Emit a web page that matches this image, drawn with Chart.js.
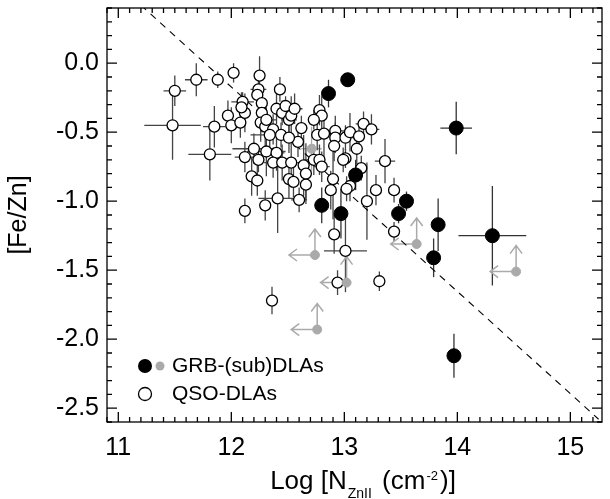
<!DOCTYPE html>
<html>
<head>
<meta charset="utf-8">
<script src="https://cdn.jsdelivr.net/npm/chart.js@4.4.1/dist/chart.umd.min.js"></script>
<style>
  html, body { margin: 0; padding: 0; background: #fff; }
  canvas { display: block; }
</style>
</head>
<body>
<canvas id="feznChart" width="610" height="499"></canvas>
<script>
const FONT = "'Liberation Sans', Arial, Helvetica, sans-serif";

// QSO-DLAs (open circles)
const qsoX = [11.50, 11.69, 11.48, 11.85, 11.81, 11.88, 12.02, 11.97, 12.00, 12.08,
  12.10, 12.12, 12.25, 12.24, 12.23, 12.27, 12.27, 12.26, 12.30, 12.31,
  12.37, 12.34, 12.43, 12.40, 12.45, 12.48, 12.51, 12.44, 12.53, 12.56,
  12.20, 12.12, 12.24, 12.31, 12.40, 12.37, 12.45, 12.53, 12.18, 12.23,
  12.51, 12.55, 12.41, 12.30, 12.12, 12.60, 12.64, 12.73, 12.78, 12.80,
  13.01, 12.99, 13.15, 13.36, 12.66, 12.66, 12.90, 12.88, 13.05, 13.02,
  13.28, 13.44, 13.20, 12.91, 13.01, 13.44, 12.94, 13.31, 12.36, 12.78,
  12.80, 12.62, 12.73, 12.76, 12.82, 12.92, 12.92, 13.01, 13.05, 13.13,
  13.17, 13.24, 13.11, 12.91, 12.59, 12.51, 12.09];
const qsoY = [-0.20, -0.12, -0.45, -0.46, -0.66, -0.12, -0.07, -0.38, -0.45, -0.43,
  -0.28, -0.36, -0.09, -0.19, -0.23, -0.29, -0.36, -0.43, -0.46, -0.41,
  -0.48, -0.52, -0.19, -0.33, -0.36, -0.31, -0.41, -0.52, -0.38, -0.33,
  -0.62, -0.68, -0.70, -0.64, -0.65, -0.72, -0.72, -0.72, -0.82, -0.85,
  -0.84, -0.86, -0.98, -1.03, -1.07, -0.99, -0.74, -0.70, -0.70, -0.75,
  -0.69, -0.70, -0.76, -0.71, -0.80, -0.88, -0.84, -0.92, -0.89, -0.91,
  -0.92, -0.92, -1.00, -1.24, -1.36, -1.22, -1.59, -1.58, -1.72, -0.34,
  -0.38, -0.47, -0.41, -0.52, -0.51, -0.49, -0.54, -0.54, -0.50, -0.53,
  -0.44, -0.48, -0.62, -0.60, -0.57, -0.54, -0.32];
const qsoXerr = [0.10, 0.10, 0.25, 0.10, 0.19, 0.04, 0.04, 0.04, 0.05, 0.04,
  0.10, 0.05, 0.04, 0.07, 0.05, 0.05, 0.04, 0.04, 0.07, 0.09,
  0.04, 0.17, 0.04, 0.05, 0.04, 0.05, 0.07, 0.05, 0.05, 0.07,
  0.19, 0.09, 0.05, 0.17, 0.07, 0.05, 0.16, 0.05, 0.05, 0.04,
  0.05, 0.04, 0.17, 0.05, 0.04, 0.07, 0.05, 0.09, 0.05, 0.07,
  0.05, 0.05, 0.04, 0.09, 0.05, 0.05, 0.05, 0.05, 0.04, 0.04,
  0.04, 0.04, 0.04, 0.04, 0.19, 0.04, 0.04, 0.03, 0.04, 0.04,
  0.04, 0.05, 0.05, 0.05, 0.07, 0.09, 0.05, 0.09, 0.07, 0.05,
  0.07, 0.07, 0.05, 0.05, 0.05, 0.05, 0.05];
const qsoYerr = [0.11, 0.12, 0.25, 0.15, 0.19, 0.06, 0.07, 0.11, 0.13, 0.11,
  0.07, 0.14, 0.14, 0.09, 0.07, 0.09, 0.14, 0.14, 0.18, 0.09,
  0.11, 0.11, 0.09, 0.11, 0.09, 0.07, 0.11, 0.09, 0.14, 0.11,
  0.11, 0.11, 0.09, 0.18, 0.13, 0.11, 0.13, 0.18, 0.14, 0.11,
  0.14, 0.11, 0.25, 0.11, 0.09, 0.09, 0.22, 0.11, 0.11, 0.11,
  0.07, 0.09, 0.09, 0.16, 0.22, 0.11, 0.29, 0.14, 0.11, 0.09,
  0.11, 0.09, 0.28, 0.14, 0.30, 0.07, 0.09, 0.07, 0.10, 0.11,
  0.14, 0.09, 0.07, 0.11, 0.18, 0.11, 0.11, 0.09, 0.14, 0.09,
  0.09, 0.11, 0.11, 0.11, 0.11, 0.11, 0.11];

// GRB-(sub)DLAs (filled black)
const grbX = [13.03, 12.86, 13.99, 13.10, 12.80, 12.97, 13.55, 13.48, 13.83, 13.79, 14.31, 13.97];
const grbY = [-0.12, -0.22, -0.47, -0.81, -1.03, -1.09, -1.00, -1.09, -1.17, -1.41, -1.25, -2.12];
const grbXerr = [0, 0, 0.14, 0, 0, 0, 0, 0, 0, 0, 0.30, 0];
const grbYerr = [0.05, 0.10, 0.19, 0.11, 0.13, 0.18, 0.07, 0.07, 0.19, 0.14, 0.36, 0.16];

// GRB-(sub)DLAs (grey): one measurement and the limits
const greyX = [12.71];
const greyY = [-0.62];
const greyXerr = [0.09];
const greyYerr = [0.16];
const limX = [12.74, 13.02, 12.76, 13.64, 14.52];
const limY = [-1.39, -1.59, -1.93, -1.31, -1.51];

// dashed relation
const dashX = [11.20, 15.25];
const dashY = [0.42, -2.58];

const xTicks = [11, 12, 13, 14, 15];
const yTicks = [-2.5, -2.0, -1.5, -1.0, -0.5, 0.0];

const pts = (xs, ys) => xs.map((x, i) => ({ x: x, y: ys[i] }));

const errorBars = {
  id: 'errorBars',
  beforeDatasetsDraw(chart) {
    const ctx = chart.ctx, xs = chart.scales.x, ys = chart.scales.y;
    ctx.save();
    ctx.lineWidth = 1.3;
    chart.data.datasets.forEach(ds => {
      if (!ds.errX) return;
      ctx.strokeStyle = ds.errColor;
      ds.data.forEach((p, i) => {
        const px = xs.getPixelForValue(p.x), py = ys.getPixelForValue(p.y);
        const ex = ds.errX[i], ey = ds.errY[i];
        ctx.beginPath();
        if (ex > 0) {
          ctx.moveTo(xs.getPixelForValue(p.x - ex), py);
          ctx.lineTo(xs.getPixelForValue(p.x + ex), py);
        }
        if (ey > 0) {
          ctx.moveTo(px, ys.getPixelForValue(p.y - ey));
          ctx.lineTo(px, ys.getPixelForValue(p.y + ey));
        }
        ctx.stroke();
      });
    });
    ctx.restore();
  }
};

const limitArrows = {
  id: 'limitArrows',
  beforeDatasetsDraw(chart) {
    const ctx = chart.ctx, xs = chart.scales.x, ys = chart.scales.y;
    const len = 26, head = 8;
    ctx.save();
    ctx.strokeStyle = '#aaaaaa';
    ctx.lineWidth = 1.5;
    chart.data.datasets.forEach(ds => {
      if (!ds.limits) return;
      ds.data.forEach(p => {
        const px = xs.getPixelForValue(p.x), py = ys.getPixelForValue(p.y);
        ctx.beginPath();
        ctx.moveTo(px, py); ctx.lineTo(px - len, py);
        ctx.moveTo(px - len + head, py - head * 0.75); ctx.lineTo(px - len, py); ctx.lineTo(px - len + head, py + head * 0.75);
        ctx.moveTo(px, py); ctx.lineTo(px, py - len);
        ctx.moveTo(px - head * 0.75, py - len + head); ctx.lineTo(px, py - len); ctx.lineTo(px + head * 0.75, py - len + head);
        ctx.stroke();
      });
    });
    ctx.restore();
  }
};

const frame = {
  id: 'frame',
  afterDraw(chart) {
    const ctx = chart.ctx, a = chart.chartArea, xs = chart.scales.x, ys = chart.scales.y;
    ctx.save();
    ctx.strokeStyle = '#000';
    ctx.lineWidth = 1.3;
    ctx.strokeRect(a.left, a.top, a.right - a.left, a.bottom - a.top);
    ctx.beginPath();
    for (let k = Math.ceil(xs.min * 10); k <= Math.floor(xs.max * 10); k++) {
      const px = xs.getPixelForValue(k / 10), t = k % 10 === 0 ? 10 : 5;
      ctx.moveTo(px, a.bottom); ctx.lineTo(px, a.bottom - t);
      ctx.moveTo(px, a.top); ctx.lineTo(px, a.top + t);
    }
    for (let k = Math.ceil(ys.min * 10); k <= Math.floor(ys.max * 10); k++) {
      const py = ys.getPixelForValue(k / 10), t = k % 5 === 0 ? 10 : 5;
      ctx.moveTo(a.left, py); ctx.lineTo(a.left + t, py);
      ctx.moveTo(a.right, py); ctx.lineTo(a.right - t, py);
    }
    ctx.stroke();

    // x title with subscript and superscript: [text, size, baseline shift, gap after]
    const parts = [
      ['Log [N', 26, 0, 1], ['ZnII', 14, 9, 3], [' (cm', 26, 0, 1], ['-2', 13, -9, 2], [')]', 26, 0, 0]
    ];
    let w = 0;
    parts.forEach(p => { ctx.font = p[1] + 'px ' + FONT; w += ctx.measureText(p[0]).width + p[3]; });
    let cx = 363 - w / 2;
    const base = 489;
    ctx.fillStyle = '#000';
    ctx.textBaseline = 'alphabetic';
    ctx.textAlign = 'left';
    parts.forEach(p => {
      ctx.font = p[1] + 'px ' + FONT;
      ctx.fillText(p[0], cx, base + p[2]);
      cx += ctx.measureText(p[0]).width + p[3];
    });

    // legend
    ctx.lineWidth = 1.3;
    ctx.fillStyle = '#000';
    ctx.beginPath(); ctx.arc(145, 366, 7, 0, Math.PI * 2); ctx.fill();
    ctx.fillStyle = '#aaaaaa';
    ctx.beginPath(); ctx.arc(160, 366, 4.5, 0, Math.PI * 2); ctx.fill();
    ctx.fillStyle = '#fff';
    ctx.beginPath(); ctx.arc(145, 394, 6.5, 0, Math.PI * 2); ctx.fill(); ctx.stroke();
    ctx.fillStyle = '#000';
    ctx.font = '21px ' + FONT;
    ctx.textBaseline = 'middle';
    ctx.fillText('GRB-(sub)DLAs', 172, 366);
    ctx.fillText('QSO-DLAs', 172, 394);
    ctx.restore();
  }
};

new Chart(document.getElementById('feznChart'), {
  type: 'scatter',
  data: {
    datasets: [
      {
        label: 'GRB-(sub)DLAs',
        data: pts(grbX, grbY),
        errX: grbXerr, errY: grbYerr, errColor: '#333',
        pointRadius: 7, pointBackgroundColor: '#000', pointBorderColor: '#000', pointBorderWidth: 1
      },
      {
        label: 'GRB-(sub)DLAs grey',
        data: pts(greyX, greyY),
        errX: greyXerr, errY: greyYerr, errColor: '#aaaaaa',
        pointRadius: 4.5, pointBackgroundColor: '#aaaaaa', pointBorderColor: '#aaaaaa', pointBorderWidth: 1
      },
      {
        label: 'GRB-(sub)DLAs limits',
        data: pts(limX, limY),
        limits: true,
        pointRadius: 4.5, pointBackgroundColor: '#aaaaaa', pointBorderColor: '#aaaaaa', pointBorderWidth: 1
      },
      {
        label: 'QSO-DLAs',
        data: pts(qsoX, qsoY),
        errX: qsoXerr, errY: qsoYerr, errColor: '#444',
        pointRadius: 5.5, pointBackgroundColor: '#fff', pointBorderColor: '#000', pointBorderWidth: 1.3
      },
      {
        type: 'line',
        label: 'relation',
        data: pts(dashX, dashY),
        borderColor: '#000', borderWidth: 1.1, borderDash: [7, 6],
        pointRadius: 0, fill: false
      }
    ]
  },
  options: {
    responsive: false,
    animation: false,
    events: [],
    layout: { padding: { top: 5, right: 1, left: 0, bottom: 0 } },
    plugins: { legend: { display: false }, tooltip: { enabled: false } },
    scales: {
      x: {
        type: 'linear', min: 10.9, max: 15.28,
        grid: { display: false, drawTicks: false },
        border: { display: false },
        afterBuildTicks: s => { s.ticks = xTicks.map(v => ({ value: v })); },
        afterFit: s => { s.height = 77; s.paddingLeft = 0; s.paddingRight = 0; },
        ticks: { padding: 11, color: '#000', font: { family: FONT, size: 25 }, maxRotation: 0, autoSkip: false,
          callback: v => String(v) },
        title: { display: false }
      },
      y: {
        type: 'linear', min: -2.6, max: 0.4,
        grid: { display: false, drawTicks: false },
        border: { display: false },
        afterBuildTicks: s => { s.ticks = yTicks.map(v => ({ value: v })); },
        afterFit: s => { s.width = 107; s.paddingTop = 0; s.paddingBottom = 0; },
        ticks: { padding: 8, color: '#000', font: { family: FONT, size: 25 }, autoSkip: false,
          callback: v => Number(v).toFixed(1) },
        title: { display: true, text: '[Fe/Zn]', color: '#000', font: { family: FONT, size: 25 }, padding: 4 }
      }
    }
  },
  plugins: [errorBars, limitArrows, frame]
});
</script>
</body>
</html>
